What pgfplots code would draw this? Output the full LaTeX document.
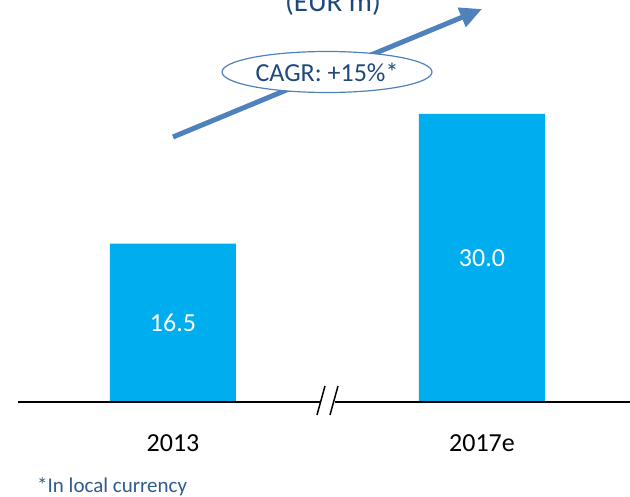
\documentclass[border=0pt]{standalone}
\usepackage{pgfplots}
\pgfplotsset{compat=1.18}
\usepackage{fontspec}
\setmainfont{Carlito}
\usetikzlibrary{arrows.meta,shapes.geometric}
\definecolor{barblue}{HTML}{00AEEF}
\definecolor{arrowblue}{HTML}{4F81BD}
\definecolor{textblue}{HTML}{1F497D}
\definecolor{footblue}{HTML}{2F5B8C}
\begin{document}
\begin{tikzpicture}[font=\fontsize{26bp}{30bp}\selectfont]
\path[use as bounding box] (0,0) rectangle (630bp,497bp);
\begin{axis}[
  at={(18bp,95bp)}, anchor=south west,
  scale only axis, width=612bp, height=402bp,
  xmin=-0.5016, xmax=1.479, ymin=0, ymax=41.875,
  axis lines=none,
  clip=false,
  ybar, bar width=126bp,
  xtick={0,1}, xticklabels={2013,2017e},
  ytick=\empty,
  enlargelimits=false,
  /pgf/number format/assume math mode=true,
  visualization depends on={y \as \rawy},
  nodes near coords={\pgfmathprintnumber[fixed,precision=1,fixed zerofill,assume math mode=true]{\pgfplotspointmeta}},
  every node near coord/.append style={anchor=center, text=white,
     font=\fontsize{26bp}{30bp}\selectfont,
     shift={(axis direction cs:0,-\rawy/2)}},
]
\addplot[fill=barblue, draw=none] coordinates {(0,16.5) (1,30.0)};
% baseline with break
\draw[black, line width=1.5pt] (axis cs:-0.5016,0) -- (axis cs:0.4757,0);
\draw[black, line width=1.5pt] (axis cs:0.5243,0) -- (axis cs:1.479,0);
\draw[black, line width=1.5pt] (axis cs:0.466,-1.354) -- (axis cs:0.4919,1.667);
\draw[black, line width=1.5pt] (axis cs:0.5081,-1.354) -- (axis cs:0.534,1.667);
% tick labels
\node[anchor=center] at (axis cs:0,-4.25) {2013};
\node[anchor=center] at (axis cs:1,-4.25) {2017e};
\end{axis}
% title (cut at the top edge, as in the reference)
\node[anchor=base, text=textblue, font=\fontsize{29bp}{34bp}\selectfont] at (333bp,485bp) {(EUR m)};
% CAGR arrow
\draw[arrowblue, line width=5bp, -{Triangle[length=22bp,width=20bp]}] (173bp,360bp) -- (482bp,488bp);
\node[draw=arrowblue, line width=1.2bp, fill=white, ellipse, minimum width=210bp, minimum height=41bp, inner sep=0pt] at (327bp,425bp) {};
\node[text=textblue] at (327bp,425bp) {CAGR: +15\%*};
% footnote
\node[anchor=base west, inner sep=0pt, text=footblue, font=\fontsize{21bp}{25bp}\selectfont] at (37bp,5bp) {*In local currency};
\end{tikzpicture}
\end{document}
